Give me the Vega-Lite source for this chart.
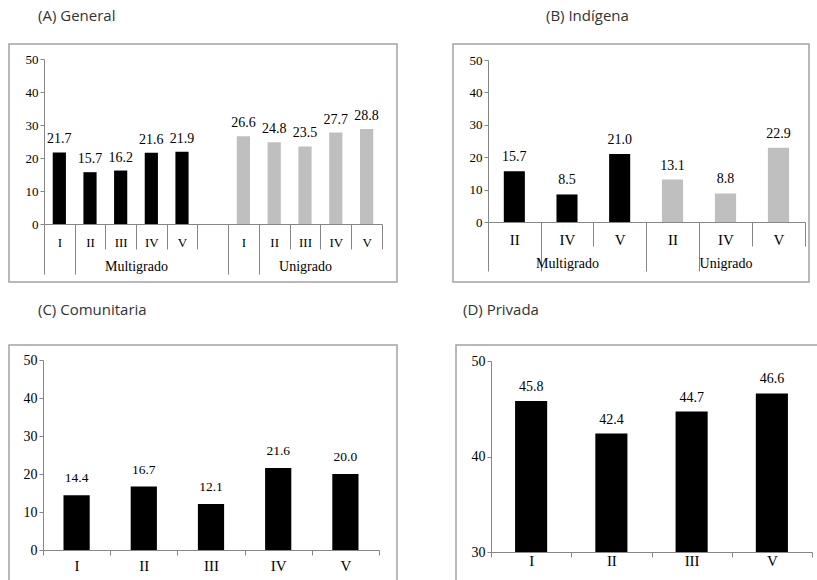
{
  "$schema": "https://vega.github.io/schema/vega-lite/v6.json",
  "padding": {"left": 8, "top": 8, "right": 0, "bottom": 0},
  "background": "#ffffff",
  "datasets": {
    "general": [
      {"grupo": "Multigrado", "grado": "I", "valor": 21.7},
      {"grupo": "Multigrado", "grado": "II", "valor": 15.7},
      {"grupo": "Multigrado", "grado": "III", "valor": 16.2},
      {"grupo": "Multigrado", "grado": "IV", "valor": 21.6},
      {"grupo": "Multigrado", "grado": "V", "valor": 21.9},
      {"grupo": "Unigrado", "grado": "I", "valor": 26.6},
      {"grupo": "Unigrado", "grado": "II", "valor": 24.8},
      {"grupo": "Unigrado", "grado": "III", "valor": 23.5},
      {"grupo": "Unigrado", "grado": "IV", "valor": 27.7},
      {"grupo": "Unigrado", "grado": "V", "valor": 28.8}
    ],
    "indigena": [
      {"grupo": "Multigrado", "grado": "II", "valor": 15.7},
      {"grupo": "Multigrado", "grado": "IV", "valor": 8.5},
      {"grupo": "Multigrado", "grado": "V", "valor": 21.0},
      {"grupo": "Unigrado", "grado": "II", "valor": 13.1},
      {"grupo": "Unigrado", "grado": "IV", "valor": 8.8},
      {"grupo": "Unigrado", "grado": "V", "valor": 22.9}
    ],
    "comunitaria": [
      {"grado": "I", "valor": 14.4},
      {"grado": "II", "valor": 16.7},
      {"grado": "III", "valor": 12.1},
      {"grado": "IV", "valor": 21.6},
      {"grado": "V", "valor": 20.0}
    ],
    "privada": [
      {"grado": "I", "valor": 45.8},
      {"grado": "II", "valor": 42.4},
      {"grado": "III", "valor": 44.7},
      {"grado": "V", "valor": 46.6}
    ]
  },
  "vconcat": [
    {
      "hconcat": [
        {
          "width": 388,
          "height": 238,
          "title": {"text": "(A) General", "dx": 29, "offset": 20},
          "data": {"name": "general"},
          "layer": [
            {
              "transform": [{"filter": "datum.grupo === 'Multigrado'"}],
              "layer": [
                {
                  "mark": {"type": "bar", "color": "#000000", "width": {"band": 0.43}},
                  "encoding": {
                    "x": {
                      "field": "grado", "type": "nominal",
                      "scale": {"domain": ["I", "II", "III", "IV", "V", " "], "range": [35, 219], "paddingInner": 0, "paddingOuter": 0},
                      "axis": {
                        "orient": "bottom", "offset": -58, "title": "Multigrado", "titleY": 42,
                        "titleBaseline": "middle", "titleFontSize": 14,
                        "tickBand": "extent", "labelAngle": 0, "labelFontSize": 13, "labelBaseline": "middle",
                        "tickSize": {"condition": {"test": "datum.value === 'I' || datum.extra", "value": 50}, "value": 25},
                        "labelPadding": {"condition": {"test": "datum.value === 'I' || datum.extra", "value": -32}, "value": -7}
                      }
                    },
                    "y": {
                      "field": "valor", "type": "quantitative",
                      "scale": {"domain": [0, 50], "range": [180, 15], "nice": false},
                      "axis": {"offset": -35, "values": [0, 10, 20, 30, 40, 50], "title": null, "tickSize": 4, "labelPadding": 2, "labelFontSize": 13}
                    }
                  }
                },
                {
                  "mark": {"type": "text", "baseline": "bottom", "dy": -6, "font": "Liberation Serif", "fontSize": 14, "color": "#000000"},
                  "encoding": {
                    "x": {"field": "grado", "type": "nominal"},
                    "y": {"field": "valor", "type": "quantitative"},
                    "text": {"field": "valor", "type": "quantitative", "format": ".1f"}
                  }
                }
              ]
            },
            {
              "transform": [{"filter": "datum.grupo === 'Unigrado'"}],
              "layer": [
                {
                  "mark": {"type": "bar", "color": "#bfbfbf", "width": {"band": 0.43}},
                  "encoding": {
                    "x": {
                      "field": "grado", "type": "nominal",
                      "scale": {"domain": ["I", "II", "III", "IV", "V"], "range": [219, 373], "paddingInner": 0, "paddingOuter": 0},
                      "axis": {
                        "orient": "bottom", "offset": -58, "title": "Unigrado", "titleY": 42,
                        "titleBaseline": "middle", "titleFontSize": 14,
                        "tickBand": "extent", "labelAngle": 0, "labelFontSize": 13, "labelBaseline": "middle",
                        "tickSize": {"condition": {"test": "datum.value === 'I' || datum.extra", "value": 50}, "value": 25},
                        "labelPadding": {"condition": {"test": "datum.value === 'I' || datum.extra", "value": -32}, "value": -7}
                      }
                    },
                    "y": {"field": "valor", "type": "quantitative"}
                  }
                },
                {
                  "mark": {"type": "text", "baseline": "bottom", "dy": -6, "font": "Liberation Serif", "fontSize": 14, "color": "#000000"},
                  "encoding": {
                    "x": {"field": "grado", "type": "nominal"},
                    "y": {"field": "valor", "type": "quantitative"},
                    "text": {"field": "valor", "type": "quantitative", "format": ".1f"}
                  }
                }
              ]
            }
          ],
          "resolve": {"scale": {"x": "independent"}}
        },
        {
          "width": 356,
          "height": 238,
          "title": {"text": "(B) Indígena", "dx": 93, "offset": 20},
          "data": {"name": "indigena"},
          "layer": [
            {
              "transform": [{"filter": "datum.grupo === 'Multigrado'"}],
              "layer": [
                {
                  "mark": {"type": "bar", "color": "#000000", "width": {"band": 0.4}},
                  "encoding": {
                    "x": {
                      "field": "grado", "type": "nominal",
                      "scale": {"domain": ["II", "IV", "V"], "range": [35, 193], "paddingInner": 0, "paddingOuter": 0},
                      "axis": {
                        "orient": "bottom", "offset": -60, "title": "Multigrado", "titleY": 41,
                        "titleBaseline": "middle", "titleFontSize": 14,
                        "tickBand": "extent", "labelAngle": 0, "labelFontSize": 15, "labelBaseline": "middle",
                        "tickSize": {"condition": {"test": "datum.value === 'II' || datum.extra", "value": 49}, "value": 24},
                        "labelPadding": {"condition": {"test": "datum.value === 'II' || datum.extra", "value": -32}, "value": -7}
                      }
                    },
                    "y": {
                      "field": "valor", "type": "quantitative",
                      "scale": {"domain": [0, 50], "range": [178, 16], "nice": false},
                      "axis": {"offset": -35, "values": [0, 10, 20, 30, 40, 50], "title": null, "tickSize": 4, "labelPadding": 2, "labelFontSize": 13}
                    }
                  }
                },
                {
                  "mark": {"type": "text", "baseline": "bottom", "dy": -7, "font": "Liberation Serif", "fontSize": 14, "color": "#000000"},
                  "encoding": {
                    "x": {"field": "grado", "type": "nominal"},
                    "y": {"field": "valor", "type": "quantitative"},
                    "text": {"field": "valor", "type": "quantitative", "format": ".1f"}
                  }
                }
              ]
            },
            {
              "transform": [{"filter": "datum.grupo === 'Unigrado'"}],
              "layer": [
                {
                  "mark": {"type": "bar", "color": "#bfbfbf", "width": {"band": 0.4}},
                  "encoding": {
                    "x": {
                      "field": "grado", "type": "nominal",
                      "scale": {"domain": ["II", "IV", "V"], "range": [193, 352], "paddingInner": 0, "paddingOuter": 0},
                      "axis": {
                        "orient": "bottom", "offset": -60, "title": "Unigrado", "titleY": 41,
                        "titleBaseline": "middle", "titleFontSize": 14,
                        "tickBand": "extent", "labelAngle": 0, "labelFontSize": 15, "labelBaseline": "middle",
                        "tickSize": {"condition": {"test": "datum.value === 'II' || datum.extra", "value": 49}, "value": 24},
                        "labelPadding": {"condition": {"test": "datum.value === 'II' || datum.extra", "value": -32}, "value": -7}
                      }
                    },
                    "y": {"field": "valor", "type": "quantitative"}
                  }
                },
                {
                  "mark": {"type": "text", "baseline": "bottom", "dy": -7, "font": "Liberation Serif", "fontSize": 14, "color": "#000000"},
                  "encoding": {
                    "x": {"field": "grado", "type": "nominal"},
                    "y": {"field": "valor", "type": "quantitative"},
                    "text": {"field": "valor", "type": "quantitative", "format": ".1f"}
                  }
                }
              ]
            }
          ],
          "resolve": {"scale": {"x": "independent"}}
        }
      ],
      "spacing": 54
    },
    {
      "hconcat": [
        {
          "width": 388,
          "height": 236,
          "title": {"text": "(C) Comunitaria", "dx": 29, "offset": 27},
          "data": {"name": "comunitaria"},
          "layer": [
            {
              "mark": {"type": "bar", "color": "#000000", "width": {"band": 0.39}},
              "encoding": {
                "x": {
                  "field": "grado", "type": "nominal",
                  "scale": {"domain": ["I", "II", "III", "IV", "V"], "range": [34, 370], "paddingInner": 0, "paddingOuter": 0},
                  "axis": {"orient": "bottom", "offset": -31, "title": null, "tickBand": "extent", "tickSize": 5, "labelAngle": 0, "labelFontSize": 15, "labelBaseline": "middle", "labelPadding": 10}
                },
                "y": {
                  "field": "valor", "type": "quantitative",
                  "scale": {"domain": [0, 50], "range": [205, 15], "nice": false},
                  "axis": {"offset": -34, "values": [0, 10, 20, 30, 40, 50], "title": null, "tickSize": 4, "labelPadding": 2, "labelFontSize": 14}
                }
              }
            },
            {
              "mark": {"type": "text", "baseline": "bottom", "dy": -10, "font": "Liberation Serif", "fontSize": 13.5, "color": "#000000"},
              "encoding": {
                "x": {"field": "grado", "type": "nominal"},
                "y": {"field": "valor", "type": "quantitative"},
                "text": {"field": "valor", "type": "quantitative", "format": ".1f"}
              }
            }
          ]
        },
        {
          "width": 362,
          "height": 236,
          "title": {"text": "(D) Privada", "dx": 7, "offset": 27},
          "data": {"name": "privada"},
          "layer": [
            {
              "mark": {"type": "bar", "color": "#000000", "width": {"band": 0.4}},
              "encoding": {
                "x": {
                  "field": "grado", "type": "nominal",
                  "scale": {"domain": ["I", "II", "III", "V"], "range": [35, 356], "paddingInner": 0, "paddingOuter": 0},
                  "axis": {"orient": "bottom", "offset": -29, "title": null, "tickBand": "extent", "tickSize": 5, "labelAngle": 0, "labelFontSize": 15, "labelBaseline": "middle", "labelPadding": 3}
                },
                "y": {
                  "field": "valor", "type": "quantitative",
                  "scale": {"domain": [30, 50], "range": [207, 16], "nice": false, "zero": false},
                  "axis": {"offset": -35, "values": [30, 40, 50], "title": null, "tickSize": 4, "labelPadding": 2, "labelFontSize": 14}
                },
                "y2": {"datum": 30}
              }
            },
            {
              "mark": {"type": "text", "baseline": "bottom", "dy": -7, "font": "Liberation Serif", "fontSize": 14, "color": "#000000"},
              "encoding": {
                "x": {"field": "grado", "type": "nominal"},
                "y": {"field": "valor", "type": "quantitative"},
                "text": {"field": "valor", "type": "quantitative", "format": ".1f"}
              }
            }
          ]
        }
      ],
      "spacing": 57
    }
  ],
  "spacing": 19,
  "config": {
    "view": {"stroke": "#a3a3a3", "strokeWidth": 1.5},
    "axis": {
      "grid": false,
      "domainColor": "#868686",
      "tickColor": "#868686",
      "labelColor": "#000000",
      "labelFont": "Liberation Serif",
      "titleFont": "Liberation Serif",
      "titleColor": "#000000",
      "titleFontWeight": "normal",
      "labelFlush": false,
      "labelOverlap": false
    },
    "title": {
      "font": "Open Sans",
      "fontSize": 15,
      "fontWeight": "normal",
      "color": "#333333",
      "anchor": "start"
    }
  }
}
